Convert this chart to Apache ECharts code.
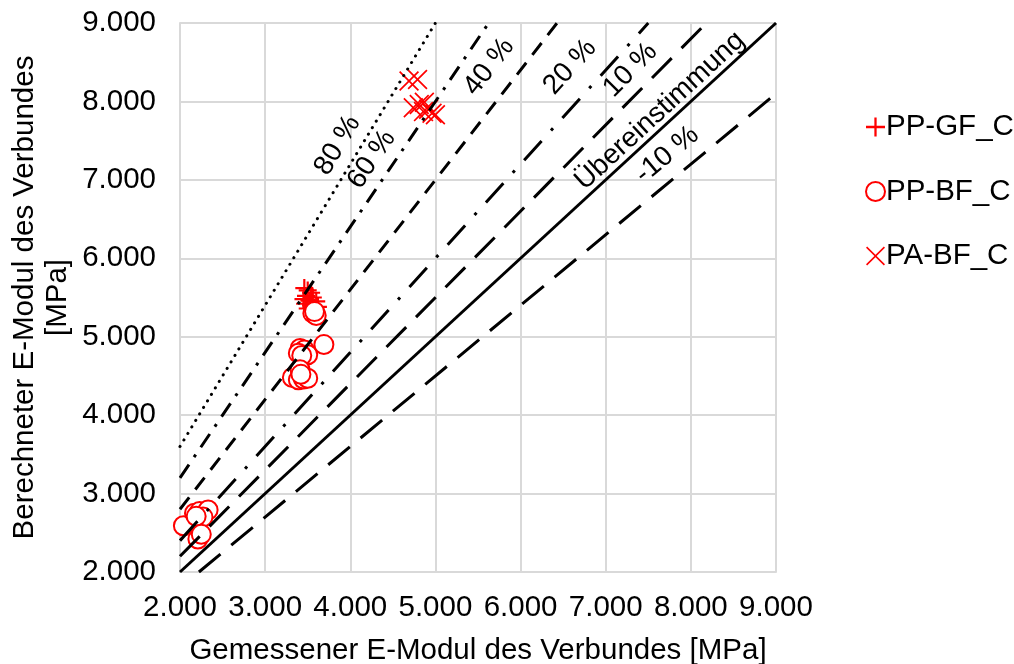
<!DOCTYPE html>
<html>
<head>
<meta charset="utf-8">
<script src="https://cdn.jsdelivr.net/npm/echarts@6/dist/echarts.min.js"></script>
<style>
  html, body { margin: 0; padding: 0; background: #fff; }
  #chart { width: 1014px; height: 664px; }
</style>
</head>
<body>
<div id="chart"></div>
<script>
// Measured vs. calculated composite E-modulus (MPa)
const ppGF = [[3460,5620],[3500,5590],[3540,5560],[3480,5520],[3560,5500],[3520,5460],[3600,5450],
              [3470,5420],[3540,5400],[3620,5380],[3500,5360],[3580,5370],[3450,5480]];
const ppBF = [[2040,2590],[2170,2750],[2230,2770],[2330,2790],[2270,2700],[2190,2710],[2210,2420],[2250,2480],
              [3410,4850],[3460,4830],[3390,4790],[3500,4770],[3430,4760],[3690,4900],
              [3320,4480],[3390,4450],[3450,4460],[3500,4470],[3410,4580],[3420,4520],
              [3560,5300],[3600,5270],[3580,5320]];
const paBF = [[4690,8260],[4790,8280],[4740,7920],[4810,7960],[4870,7990],[4920,7900],[4960,7850],[5000,7830],[4860,7870]];

// Deviation lines y = (1 + d) * x
const deviations = [0.8, 0.6, 0.4, 0.2, 0.1, 0, -0.1];
const deviationLabels = ['80 %', '60 %', '40 %', '20 %', '10 %', 'Übereinstimmung', '-10 %'];
const axisMin = 2000, axisMax = 9000, axisStep = 1000;

// Where each line caption sits (data coordinates of its centre)
const captionAnchors = [[3850,7440],[4251,7260],[5630,8440],[6580,8440],[7290,8400],[7638,7880],[7720,7320]];

const dashStyles = [
  { type: [0.1, 7.5], cap: 'round' },
  { type: [16, 9, 3, 9], cap: 'butt' },
  { type: [15, 10], cap: 'butt' },
  { type: [26, 14, 3, 14], cap: 'butt' },
  { type: [28, 14], cap: 'butt' },
  { type: 'solid', cap: 'butt' },
  { type: [28, 14], cap: 'butt' }
];

const FONT = 'Liberation Sans, Arial, sans-serif';
const FS = 29.5;
const RED = '#ff0000';
const INK = '#000';
const plusPath = 'path://M4.4,0H5.6V4.4H10V5.6H5.6V10H4.4V5.6H0V4.4H4.4Z';
const crossPath = 'path://M0,0.6L0.6,0L5,4.4L9.4,0L10,0.6L5.6,5L10,9.4L9.4,10L5,5.6L0.6,10L0,9.4L4.4,5Z';

function fmt(v) {
  return String(Math.round(v)).replace(/\B(?=(\d{3})+(?!\d))/g, '.');
}

const lineSeries = deviations.map((d, i) => {
  const k = 1 + d;
  const x0 = Math.max(axisMin, axisMin / k);
  const x1 = Math.min(axisMax, axisMax / k);
  return {
    type: 'line',
    name: deviationLabels[i],
    data: [[x0, k * x0], [x1, k * x1]],
    symbol: 'none',
    silent: true,
    z: 5,
    lineStyle: Object.assign({ color: '#000', width: 3, opacity: 1 }, dashStyles[i])
  };
});

const chart = echarts.init(document.getElementById('chart'), null, { renderer: 'canvas' });

const scatterBase = { type: 'scatter', z: 3, animation: false };

const option = {
  animation: false,
  backgroundColor: '#fff',
  textStyle: { fontFamily: FONT },
  grid: { left: 180, right: 238, top: 23, bottom: 92, containLabel: false, outerBoundsMode: 'none' },
  xAxis: {
    type: 'value', min: axisMin, max: axisMax, interval: axisStep,
    name: 'Gemessener E-Modul des Verbundes [MPa]',
    nameLocation: 'middle', nameGap: 64,
    nameTextStyle: { fontSize: FS, color: INK, fontFamily: FONT },
    axisLine: { show: true, lineStyle: { color: '#d9d9d9', width: 2 } },
    axisTick: { show: false },
    splitLine: { show: true, lineStyle: { color: '#d9d9d9', width: 2 } },
    axisLabel: { fontSize: FS, color: INK, margin: 21, formatter: fmt, fontFamily: FONT, hideOverlap: false }
  },
  yAxis: {
    type: 'value', min: axisMin, max: axisMax, interval: axisStep,
    name: 'Berechneter E-Modul des Verbundes\n[MPa]',
    nameLocation: 'middle', nameGap: 106, nameRotate: 90, nameMoveOverlap: false,
    nameTextStyle: { fontSize: FS, color: INK, lineHeight: 33, fontFamily: FONT },
    axisLine: { show: true, lineStyle: { color: '#d9d9d9', width: 2 } },
    axisTick: { show: false },
    splitLine: { show: true, lineStyle: { color: '#d9d9d9', width: 2 } },
    axisLabel: { fontSize: FS, color: INK, margin: 24, formatter: fmt, fontFamily: FONT, hideOverlap: false }
  },
  legend: {
    orient: 'vertical', left: 860, top: 107, itemGap: 34.5,
    itemWidth: 19, itemHeight: 19,
    textStyle: { fontSize: FS, color: INK, fontFamily: FONT, padding: [0, 0, 0, -4] },
    data: [
      { name: 'PP-GF_C', icon: plusPath },
      { name: 'PP-BF_C', icon: 'emptyCircle' },
      { name: 'PA-BF_C', icon: crossPath }
    ]
  },
  series: [
    Object.assign({}, scatterBase, {
      name: 'PP-GF_C', data: ppGF, symbol: plusPath, symbolSize: 18,
      itemStyle: { color: RED, opacity: 1 }
    }),
    Object.assign({}, scatterBase, {
      name: 'PP-BF_C', data: ppBF, symbol: 'emptyCircle', symbolSize: 19,
      itemStyle: { color: RED, borderColor: RED, borderWidth: 2, opacity: 1 }
    }),
    Object.assign({}, scatterBase, {
      name: 'PA-BF_C', data: paBF, symbol: crossPath, symbolSize: 20,
      itemStyle: { color: RED, opacity: 1 }
    })
  ].concat(lineSeries)
};

chart.setOption(option);

// Captions rotated along their line, angle taken from the axis scales
const captions = deviations.map((d, i) => {
  const k = 1 + d;
  const p0 = chart.convertToPixel({ gridIndex: 0 }, [3000, 3000 * k]);
  const p1 = chart.convertToPixel({ gridIndex: 0 }, [5000, 5000 * k]);
  const ang = Math.atan2(p0[1] - p1[1], p1[0] - p0[0]) * 180 / Math.PI;
  return {
    value: captionAnchors[i],
    label: { show: true, formatter: deviationLabels[i], rotate: ang }
  };
});

chart.setOption({
  series: option.series.concat([{
    type: 'scatter',
    name: 'captions',
    data: captions,
    symbolSize: 0,
    silent: true,
    z: 6,
    itemStyle: { opacity: 1 },
    label: {
      show: true, position: 'inside', fontSize: 28, color: INK,
      fontFamily: FONT, align: 'center', verticalAlign: 'middle'
    }
  }])
});
</script>
</body>
</html>
